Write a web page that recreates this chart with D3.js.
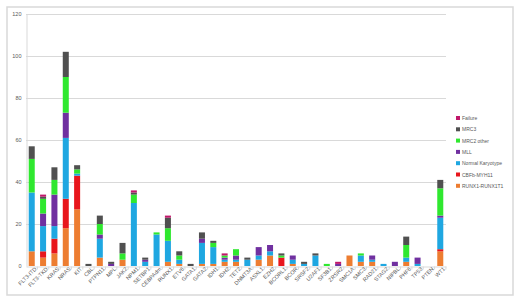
<!DOCTYPE html>
<html>
<head>
<meta charset="utf-8">
<style>
  body { margin: 0; background: #fff; }
  svg text { font-family: "Liberation Sans", "Open Sans", sans-serif; fill: #595959; }
</style>
</head>
<body>
<svg class="chart"></svg>
<script src="https://cdn.jsdelivr.net/npm/d3@7/dist/d3.min.js"></script>
<script>
    var genes = ['FLT3-ITD', 'FLT3-TKD', 'KRAS', 'NRAS', 'KIT', 'CBL', 'PTPN11', 'MPL', 'JAK2', 'NPM1',
        'SETBP1', 'CEBPAdm', 'RUNX1', 'ETV6', 'GATA1', 'GATA2', 'IDH1', 'IDH2', 'TET2', 'DNMT3A',
        'ASXL1', 'EZH2', 'BCORL1', 'BCOR', 'SRSF2', 'U2AF1', 'SF3B1', 'ZRSR2', 'SMC1A', 'SMC3',
        'RAD21', 'STAG2', 'NIPBL', 'PHF6', 'TP53', 'PTEN', 'WT1'];

    // series, bottom of the stack first
    var runx1 = [7, 4, 6, 18, 27, 0, 4, 0, 3, 0, 0, 0, 2, 1, 0, 1, 1, 2, 2, 0, 3, 5, 0, 1, 0, 0, 0, 0, 5, 2, 2, 0, 0, 2, 0, 0, 7];
    var cbfb = [0, 3, 7, 14, 16, 0, 0, 0, 0, 0, 0, 0, 0, 0, 0, 0, 0, 0, 0, 0, 0, 0, 4, 0, 0, 0, 0, 0, 0, 0, 0, 0, 0, 0, 0, 0, 1];
    var normal = [28, 12, 6, 29, 1, 0, 9, 0, 0, 30, 2, 15, 10, 2, 0, 10, 8, 1, 1, 3, 2, 2, 0, 2, 1, 5, 0, 0, 0, 3, 1, 1, 0, 2, 1, 0, 15];
    var mll = [0, 6, 15, 12, 0, 0, 2, 1, 0, 0, 1, 0, 0, 0, 0, 2, 0, 1, 2, 0, 4, 3, 0, 2, 0, 0, 0, 1, 0, 0, 2, 0, 2, 0, 3, 0, 1];
    var mrc2 = [16, 7, 7, 17, 2, 0, 5, 0, 3, 4, 0, 1, 6, 2, 0, 0, 2, 1, 3, 0, 0, 0, 1, 0, 0, 0, 1, 0, 0, 1, 0, 0, 0, 6, 0, 0, 13];
    var mrc3 = [6, 1, 6, 12, 2, 1, 4, 1, 5, 1, 1, 0, 5, 2, 1, 3, 1, 0, 0, 1, 0, 0, 1, 0, 1, 1, 0, 0, 0, 0, 0, 0, 0, 4, 0, 0, 4];
    var failure = [0, 1, 0, 0, 0, 0, 0, 0, 0, 1, 0, 0, 1, 0, 0, 0, 0, 1, 0, 0, 0, 0, 0, 0, 0, 0, 0, 1, 0, 0, 0, 0, 0, 0, 0, 0, 0];

    var seriesNames = ['RUNX1-RUNX1T1', 'CBFb-MYH11', 'Normal Karyotype', 'MLL', 'MRC2 other', 'MRC3', 'Failure'];
    var seriesValues = [runx1, cbfb, normal, mll, mrc2, mrc3, failure];
    var colors = ['#ED7D31', '#E8161C', '#1FA7E1', '#7030A0', '#2FE82F', '#505050', '#C0176A'];
    var yTicks = [0, 20, 40, 60, 80, 100, 120];

    var width = 520, height = 303,
        plotLeft = 26, plotRight = 446, plotTop = 14, plotBottom = 266;

    var rows = genes.map(function (g, i) {
        var r = {gene: g};
        seriesNames.forEach(function (s, j) { r[s] = seriesValues[j][i]; });
        return r;
    });

    var stacked = d3.stack().keys(seriesNames)(rows);

    var x = d3.scaleBand()
        .domain(genes)
        .range([plotLeft, plotRight])
        .paddingInner(0.47)
        .paddingOuter(0.24);

    var y = d3.scaleLinear()
        .domain([0, 120])
        .range([plotBottom, plotTop]);

    var color = d3.scaleOrdinal().domain(seriesNames).range(colors);

    var svg = d3.select('.chart')
        .attr('width', width)
        .attr('height', height);

    // outer chart border
    svg.append('rect')
        .attr('x', 7).attr('y', 7)
        .attr('width', 506).attr('height', 288)
        .attr('fill', '#fff')
        .attr('stroke', '#d9d9d9')
        .attr('stroke-width', 1.5);

    // gridlines
    svg.append('g')
        .selectAll('line')
        .data(yTicks.slice(1))
        .enter()
        .append('line')
        .attr('x1', plotLeft).attr('x2', plotRight)
        .attr('y1', function (d) { return y(d) + 0.5; })
        .attr('y2', function (d) { return y(d) + 0.5; })
        .attr('stroke', '#d9d9d9');

    var yAxis = d3.axisLeft(y).tickValues(yTicks).tickSize(0).tickPadding(5);
    var gy = svg.append('g')
        .attr('class', 'y axis')
        .attr('transform', 'translate(' + (plotLeft + 0.5) + ',0)')
        .call(yAxis);
    gy.select('.domain').attr('stroke', '#d9d9d9');
    gy.selectAll('text').style('font-size', '5.5px');

    // bars
    svg.append('g')
        .selectAll('g')
        .data(stacked)
        .enter()
        .append('g')
        .attr('fill', function (d) { return color(d.key); })
        .selectAll('rect')
        .data(function (d) { return d; })
        .enter()
        .append('rect')
        .attr('x', function (d) { return x(d.data.gene); })
        .attr('y', function (d) { return y(d[1]); })
        .attr('height', function (d) { return y(d[0]) - y(d[1]); })
        .attr('width', x.bandwidth());

    // x axis with ticks between categories
    var step = x.step();
    var xAxis = d3.axisBottom(x).tickSize(0).tickPadding(3);
    var gx = svg.append('g')
        .attr('class', 'x axis')
        .attr('transform', 'translate(0,' + (plotBottom + 0.5) + ')')
        .call(xAxis);
    gx.select('.domain').attr('stroke', '#d9d9d9');
    gx.selectAll('text')
        .style('font-size', '5.5px')
        .attr('text-anchor', 'end')
        .attr('dx', '0.3em')
        .attr('dy', '0.5em')
        .attr('transform', 'rotate(-45)');
    gx.selectAll('.tick').append('line')
        .attr('x1', step / 2).attr('x2', step / 2)
        .attr('y1', 0).attr('y2', 3)
        .attr('stroke', '#d9d9d9');

    // legend, top entry = top of stack
    var legend = svg.append('g')
        .selectAll('g')
        .data(seriesNames.slice().reverse())
        .enter()
        .append('g')
        .attr('transform', function (d, i) { return 'translate(456,' + (116 + i * 11.3) + ')'; });
    legend.append('rect')
        .attr('width', 4).attr('height', 4)
        .attr('fill', function (d) { return color(d); });
    legend.append('text')
        .attr('x', 6).attr('y', 4)
        .style('font-size', '5px')
        .text(function (d) { return d; });
</script>
</body>
</html>
